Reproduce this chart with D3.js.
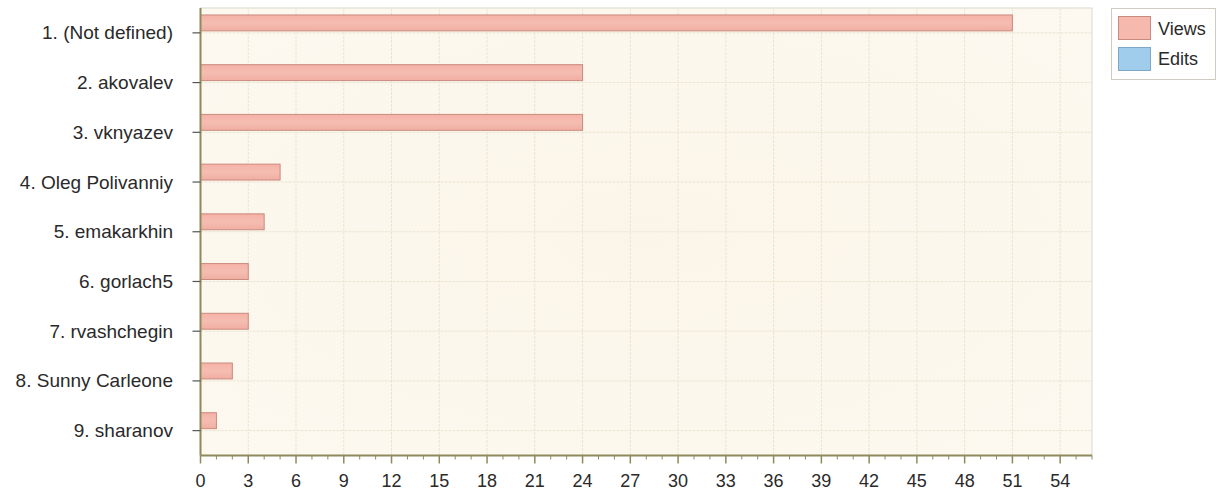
<!DOCTYPE html>
<html><head><meta charset="utf-8">
<script src="https://cdn.jsdelivr.net/npm/d3@7"></script>
<style>
html,body{margin:0;padding:0;background:#fff;}
text{font-family:"Liberation Sans",Arial,sans-serif;}
</style></head>
<body><svg id="c" width="1217" height="495"></svg>
<script>
const categories = ["1. (Not defined)","2. akovalev","3. vknyazev","4. Oleg Polivanniy","5. emakarkhin","6. gorlach5","7. rvashchegin","8. Sunny Carleone","9. sharanov"];
const series = ["Views","Edits"];
const views = [51,24,24,5,4,3,3,2,1];
const edits = [0,0,0,0,0,0,0,0,0];
const xTicks = d3.range(0,55,3);
const colors = {Views:"#f5b9ae", Edits:"#9fcdeb"};
const strokes = {Views:"#c98b7f", Edits:"#7ea8c7"};

const svg = d3.select("#c");
const L=200.5, R=1092, T=8, B=455.5;
const x = d3.scaleLinear().domain([0,56]).range([L,R]);
const y0 = d3.scaleBand().domain(categories).range([T,B]);
const bw = y0.bandwidth();
const y1 = d3.scaleBand().domain(series).range([bw*0.14, bw*0.86]).paddingInner(0.2);

const defs = svg.append("defs");
const bg = defs.append("radialGradient").attr("id","bg").attr("cx","50%").attr("cy","50%").attr("r","70%");
bg.append("stop").attr("offset","0%").attr("stop-color","#fbf5e9");
bg.append("stop").attr("offset","100%").attr("stop-color","#fdf9f0");
const bg2 = defs.append("linearGradient").attr("id","vg").attr("x1",0).attr("y1",0).attr("x2",0).attr("y2",1);
bg2.append("stop").attr("offset","0%").attr("stop-color","#f6b2a7");
bg2.append("stop").attr("offset","50%").attr("stop-color","#f5bdb2");
bg2.append("stop").attr("offset","100%").attr("stop-color","#f1aea2");

svg.append("rect").attr("x",L).attr("y",T).attr("width",R-L).attr("height",B-T)
  .attr("fill","url(#bg)").attr("stroke","#dcd8cc").attr("stroke-width",1);

// vertical grid
svg.append("g").selectAll("line").data(xTicks.filter(d=>d>0)).join("line")
  .attr("x1",d=>x(d)).attr("x2",d=>x(d)).attr("y1",T).attr("y2",B)
  .attr("stroke","#ebe5d3").attr("stroke-width",1).attr("stroke-dasharray","3,1");
// horizontal grid
svg.append("g").selectAll("line").data(categories).join("line")
  .attr("x1",L).attr("x2",R).attr("y1",d=>y0(d)+bw/2).attr("y2",d=>y0(d)+bw/2)
  .attr("stroke","#ebe5d3").attr("stroke-width",1).attr("stroke-dasharray","3,1");

// bars
const rows = categories.map((c,i)=>({c, vals:[{s:"Views",v:views[i]},{s:"Edits",v:edits[i]}]}));
const g = svg.append("g").selectAll("g").data(rows).join("g").attr("transform",d=>`translate(0,${y0(d.c)})`);
g.selectAll("rect").data(d=>d.vals.filter(e=>e.v>0)).join("rect")
  .attr("x",x(0)).attr("y",d=>y1(d.s)).attr("width",d=>x(d.v)-x(0)).attr("height",y1.bandwidth())
  .attr("fill",d=>d.s==="Views"?"url(#vg)":colors[d.s]).attr("stroke",d=>strokes[d.s]).attr("stroke-width",1);

// x axis
const axisColor="#8f8a5c";
const xa = svg.append("g").attr("transform",`translate(0,${B})`);
xa.append("line").attr("x1",L).attr("x2",R).attr("stroke",axisColor).attr("stroke-width",2);
xa.selectAll(".mn").data(d3.range(0,57,1)).join("line")
  .attr("x1",d=>x(d)).attr("x2",d=>x(d)).attr("y1",0).attr("y2",d=>d%3===0?8:4)
  .attr("stroke",axisColor).attr("stroke-width",d=>d%3===0?1.5:1);
xa.selectAll("text").data(xTicks).join("text")
  .attr("x",d=>x(d)).attr("y",31).attr("text-anchor","middle")
  .attr("font-size",18).attr("fill","#2a2a2a").text(d=>d);

// y axis
const ya = svg.append("g");
ya.append("line").attr("x1",L).attr("x2",L).attr("y1",T).attr("y2",B).attr("stroke",axisColor).attr("stroke-width",2);
ya.selectAll(".t").data(categories).join("line")
  .attr("x1",L-8).attr("x2",L).attr("y1",d=>y0(d)+bw/2).attr("y2",d=>y0(d)+bw/2)
  .attr("stroke","#555").attr("stroke-width",1.2);
ya.selectAll("text").data(categories).join("text")
  .attr("x",173).attr("y",d=>y0(d)+bw/2+6.5).attr("text-anchor","end")
  .attr("font-size",19).attr("fill","#2a2a2a").text(d=>d);

// legend
const lg = svg.append("g");
lg.append("rect").attr("x",1111.5).attr("y",8.5).attr("width",104).attr("height",71)
  .attr("fill","#fff").attr("stroke","#cfcbc0");
series.forEach((s,i)=>{
  lg.append("rect").attr("x",1118.5).attr("y",16.5+i*31).attr("width",32).attr("height",23)
    .attr("fill",colors[s]).attr("stroke",strokes[s]);
  lg.append("text").attr("x",1158).attr("y",35+i*30).attr("font-size",18).attr("fill","#2a2a2a").text(s);
});
</script></body></html>
